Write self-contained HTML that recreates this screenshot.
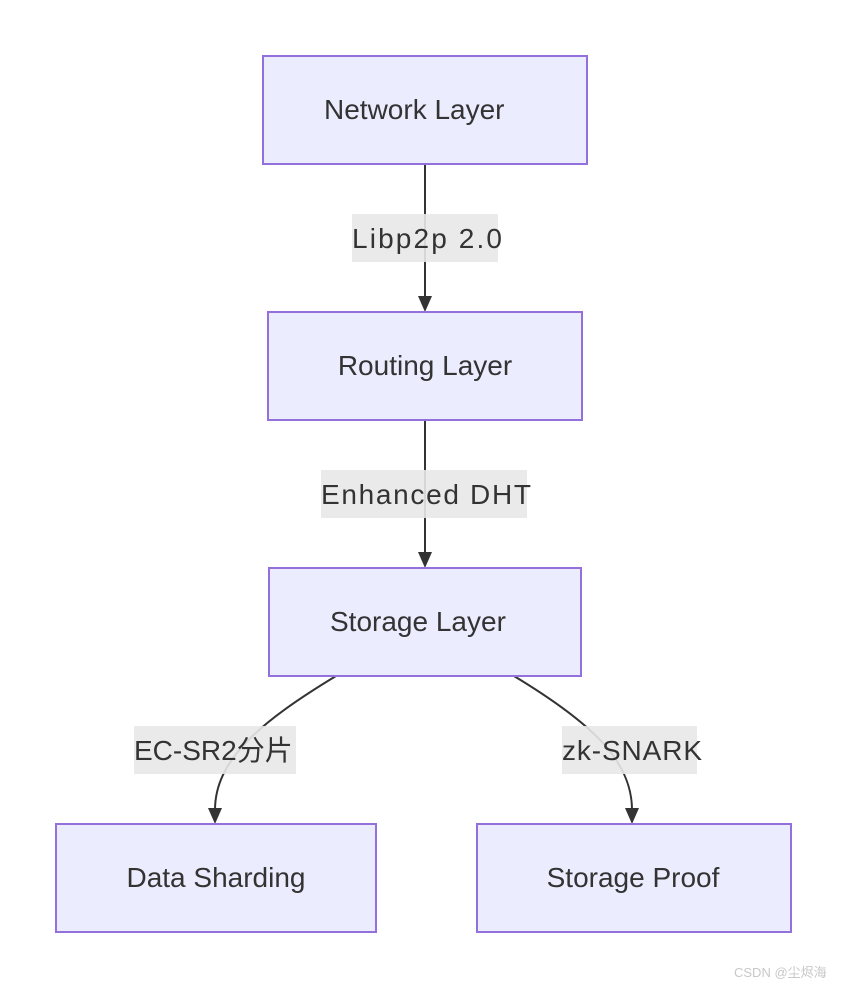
<!DOCTYPE html>
<html><head><meta charset="utf-8"><style>
html,body{margin:0;padding:0;background:#fff;}
svg text{font-family:"Liberation Sans","Noto Sans CJK SC",sans-serif;fill:#333;}
</style></head><body>
<svg width="846" height="988" viewBox="0 0 846 988" xmlns="http://www.w3.org/2000/svg">
<defs>
<marker id="a" viewBox="0 0 10 10" refX="9" refY="5" markerWidth="8" markerHeight="8" markerUnits="userSpaceOnUse" orient="auto"><path d="M0,0L10,5L0,10z" fill="#333"/></marker>
<clipPath id="c1"><rect x="263" y="56" width="264" height="108"/></clipPath>
<clipPath id="c3"><rect x="269" y="568" width="253" height="108"/></clipPath>
</defs>
<g stroke="#333" stroke-width="2" fill="none">
<path d="M425,164 L425,298" />
<path d="M425,420 L425,554" />
<path d="M336,676 C260,722 215,760 215,810" />
<path d="M514,676 C590,722 632,760 632,810" />
</g>
<g fill="#333">
<path d="M418,296 L432,296 L425,312z"/>
<path d="M418,552 L432,552 L425,568z"/>
<path d="M208,808 L222,808 L215,824z"/>
<path d="M625,808 L639,808 L632,824z"/>
</g>
<g fill="#ececff" stroke="#9370db" stroke-width="2">
<rect x="263" y="56" width="324" height="108"/>
<rect x="268" y="312" width="314" height="108"/>
<rect x="269" y="568" width="312" height="108"/>
<rect x="56" y="824" width="320" height="108"/>
<rect x="477" y="824" width="314" height="108"/>
</g>
<g fill="#e8e8e8" opacity="0.9">
<rect x="352" y="214" width="146" height="48"/>
<rect x="321" y="470" width="206" height="48"/>
<rect x="134" y="726" width="162" height="48"/>
<rect x="562" y="726" width="135" height="48"/>
</g>
<g font-size="28">
<text x="324" y="119" clip-path="url(#c1)">Network Layer</text>
<text x="425" y="375" text-anchor="middle">Routing Layer</text>
<text x="330" y="631" clip-path="url(#c3)">Storage Layer</text>
<text x="216" y="887" text-anchor="middle">Data Sharding</text>
<text x="633" y="887" text-anchor="middle">Storage Proof</text>
<text x="352" y="248" textLength="150">Libp2p 2.0</text>
<text x="321" y="504" textLength="210">Enhanced DHT</text>
<text x="134" y="760">EC-SR2分片</text>
<text x="562" y="760" textLength="140">zk-SNARK</text>
</g>
<text x="734" y="977" font-size="13" style="fill:#c8c8c8">CSDN @尘烬海</text>
</svg>
</body></html>
